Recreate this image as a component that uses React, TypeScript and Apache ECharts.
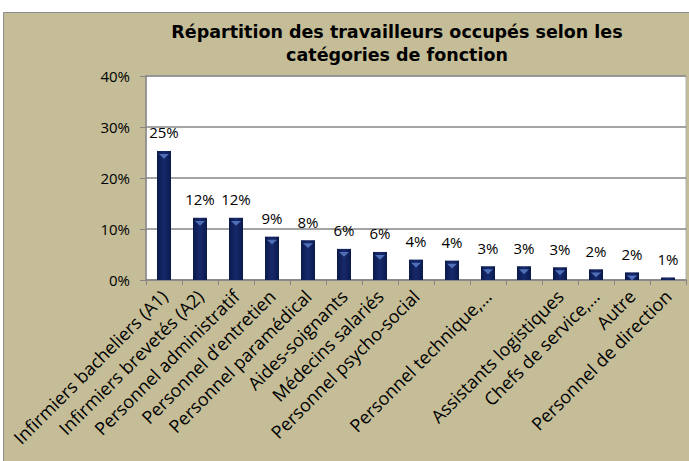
import React, { useEffect, useRef } from "react";
import * as echarts from "echarts";

const categories = [
  "Infirmiers bacheliers (A1)",
  "Infirmiers brevetés (A2)",
  "Personnel administratif",
  "Personnel d’entretien",
  "Personnel paramédical",
  "Aides-soignants",
  "Médecins salariés",
  "Personnel psycho-social",
  "",
  "Personnel technique,…",
  "",
  "Assistants logistiques",
  "Chefs de service,…",
  "Autre",
  "Personnel de direction",
];
const values = [25.3, 12.2, 12.2, 8.5, 7.8, 6.1, 5.5, 4.0, 3.8, 2.7, 2.7, 2.5, 2.1, 1.5, 0.5];
const valueLabels = ["25%", "12%", "12%", "9%", "8%", "6%", "6%", "4%", "4%", "3%", "3%", "3%", "2%", "2%", "1%"];
const yTicks = [0, 10, 20, 30, 40];
const titleText = "Répartition des travailleurs occupés selon les\ncatégories de fonction";

const FONT = "Open Sans";
const TITLE_FONT = "DejaVu Sans";

export default function App() {
  const ref = useRef<HTMLDivElement>(null);
  useEffect(() => {
    if (!ref.current) return;
    const chart = echarts.init(ref.current, null, { renderer: "svg" });
    chart.setOption({
      animation: false,
      backgroundColor: "#ffffff",
      textStyle: { fontFamily: FONT },
      graphic: [
        {
          type: "rect",
          z: -10,
          silent: true,
          shape: { x: 3.5, y: 12.5, width: 700, height: 470 },
          style: { fill: "#C4BD97", stroke: "#8c8c8c", lineWidth: 1 },
        },
      ],
      title: {
        text: titleText,
        left: 392,
        top: 15,
        textAlign: "center",
        textStyle: {
          fontFamily: TITLE_FONT,
          fontSize: 17.5,
          fontWeight: "bold",
          color: "#000",
          lineHeight: 23,
        },
      },
      grid: {
        left: 146,
        top: 76,
        right: 3,
        bottom: 181,
        show: true,
        backgroundColor: "#ffffff",
        borderColor: "#b0b0b0",
        borderWidth: 1,
        containLabel: false,
      },
      xAxis: {
        type: "category",
        data: categories,
        axisLine: { lineStyle: { color: "#868686", width: 1.5 } },
        axisTick: { show: true, length: 5, lineStyle: { color: "#868686" }, alignWithLabel: false, interval: 0 },
        axisLabel: {
          interval: 0,
          rotate: 45,
          margin: 13,
          color: "#000",
          fontFamily: FONT,
          fontSize: 18,
        },
      },
      yAxis: {
        type: "value",
        min: yTicks[0],
        max: yTicks[yTicks.length - 1],
        interval: 10,
        axisLine: { show: true, lineStyle: { color: "#868686", width: 1.5 } },
        axisTick: { show: true, length: 6, lineStyle: { color: "#868686" } },
        splitLine: { lineStyle: { color: "#868686", width: 1.5 } },
        axisLabel: {
          formatter: "{value}%",
          margin: 16,
          color: "#000",
          fontFamily: FONT,
          fontSize: 15,
        },
      },
      series: [
        {
          type: "bar",
          data: values,
          barWidth: 14,
          itemStyle: {
            color: new echarts.graphic.LinearGradient(0, 0, 1, 0, [
              { offset: 0, color: "#0b1a4c" },
              { offset: 0.5, color: "#16296b" },
              { offset: 1, color: "#0b1a4c" },
            ]),
          },
          label: {
            show: true,
            position: "top",
            distance: 11,
            color: "#000",
            fontFamily: FONT,
            fontSize: 15,
            formatter: (p: any) => valueLabels[p.dataIndex],
          },
        },
        {
          type: "pictorialBar",
          data: values,
          symbol: "triangle",
          symbolRotate: 180,
          symbolSize: [10, 5],
          symbolPosition: "end",
          symbolOffset: [0, 3],
          itemStyle: {
            color: (p: any) => (p.value < 1 ? "rgba(0,0,0,0)" : "#4f6fb8"),
          },
          z: 5,
          silent: true,
        },
      ],
    });
    return () => chart.dispose();
  }, []);
  return (
    <div
      ref={ref}
      style={{ position: "fixed", left: 0, top: 0, width: 689, height: 461 }}
    />
  );
}
